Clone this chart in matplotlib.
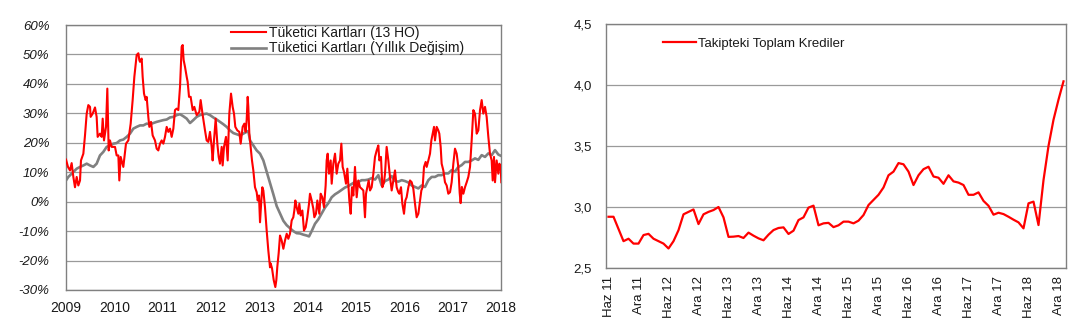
import matplotlib
matplotlib.use("Agg")
import matplotlib.pyplot as plt
import numpy as np

plt.rcParams['font.family'] = ['Liberation Sans', 'DejaVu Sans']

# ---- Left panel: consumer card growth (weekly, % ) ----
# time in years elapsed since the start of 2009
red_t = [0.000, 0.041, 0.083, 0.117, 0.152, 0.186, 0.221, 0.255, 0.290, 0.310, 0.359, 0.393, 0.428, 0.462, 0.497, 0.510,
         0.552, 0.600, 0.634, 0.655, 0.703, 0.738, 0.759, 0.786, 0.828, 0.855, 0.883, 0.910, 0.945, 1.014, 1.048, 1.083,
         1.103, 1.131, 1.186, 1.241, 1.290, 1.338, 1.379, 1.414, 1.462, 1.497, 1.517, 1.531, 1.566, 1.586, 1.614, 1.648,
         1.669, 1.703, 1.724, 1.759, 1.793, 1.841, 1.876, 1.910, 1.945, 1.979, 2.014, 2.048, 2.083, 2.117, 2.152, 2.186,
         2.221, 2.255, 2.290, 2.324, 2.359, 2.393, 2.414, 2.434, 2.462, 2.497, 2.517, 2.545, 2.579, 2.621, 2.655, 2.703,
         2.759, 2.786, 2.828, 2.876, 2.910, 2.945, 2.979, 3.014, 3.034, 3.062, 3.097, 3.131, 3.159, 3.186, 3.221, 3.241,
         3.269, 3.310, 3.345, 3.379, 3.414, 3.448, 3.476, 3.503, 3.545, 3.586, 3.614, 3.655, 3.690, 3.717, 3.738, 3.759,
         3.772, 3.793, 3.821, 3.848, 3.876, 3.910, 3.945, 3.966, 3.993, 4.014, 4.041, 4.062, 4.083, 4.117, 4.152, 4.186,
         4.221, 4.234, 4.262, 4.297, 4.331, 4.352, 4.372, 4.400, 4.428, 4.462, 4.497, 4.531, 4.566, 4.600, 4.634, 4.669,
         4.703, 4.724, 4.745, 4.772, 4.807, 4.828, 4.855, 4.890, 4.924, 4.959, 4.993, 5.028, 5.048, 5.083, 5.117, 5.138,
         5.172, 5.200, 5.241, 5.269, 5.303, 5.338, 5.372, 5.393, 5.414, 5.441, 5.476, 5.497, 5.531, 5.566, 5.600, 5.634,
         5.669, 5.697, 5.724, 5.752, 5.793, 5.821, 5.862, 5.890, 5.917, 5.945, 5.979, 6.014, 6.048, 6.083, 6.117, 6.152,
         6.186, 6.207, 6.234, 6.262, 6.290, 6.324, 6.359, 6.393, 6.428, 6.462, 6.483, 6.517, 6.545, 6.579, 6.600, 6.634,
         6.669, 6.703, 6.738, 6.772, 6.807, 6.841, 6.876, 6.897, 6.931, 6.959, 6.993, 7.021, 7.048, 7.083, 7.117, 7.152,
         7.186, 7.221, 7.255, 7.290, 7.324, 7.352, 7.379, 7.407, 7.441, 7.462, 7.497, 7.531, 7.559, 7.586, 7.614, 7.634,
         7.669, 7.703, 7.724, 7.752, 7.772, 7.807, 7.841, 7.876, 7.910, 7.945, 7.979, 8.014, 8.048, 8.083, 8.117, 8.145,
         8.165, 8.190, 8.221, 8.255, 8.290, 8.324, 8.359, 8.393, 8.428, 8.462, 8.497, 8.531, 8.566, 8.600, 8.634, 8.669,
         8.703, 8.738, 8.772, 8.807, 8.828, 8.855, 8.876, 8.910, 8.945, 8.966, 8.993, 9.007]
red_v = [14.3, 11.8, 10.6, 13.1, 8.4, 4.9, 8.4, 5.5, 7.2, 14.0, 16.3, 22.5, 29.9, 32.8, 32.2, 28.8,
         29.9, 32.0, 28.8, 22.0, 23.1, 22.0, 28.2, 20.8, 25.4, 38.4, 17.4, 20.8, 18.6, 18.6, 15.7, 15.7,
         7.2, 15.2, 11.8, 19.7, 20.8, 26.5, 34.5, 42.4, 49.8, 50.4, 48.1, 47.5, 48.6, 42.4, 36.7, 34.5,
         35.6, 28.8, 25.4, 27.1, 22.5, 20.8, 18.0, 17.4, 19.7, 20.8, 19.7, 22.0, 25.4, 23.7, 24.8, 22.0,
         24.8, 31.1, 31.6, 31.1, 39.0, 52.6, 53.2, 48.1, 45.8, 42.4, 40.7, 35.6, 35.6, 31.1, 32.2, 29.4,
         30.5, 34.5, 29.4, 24.2, 20.8, 20.3, 23.7, 18.6, 14.0, 20.8, 28.2, 19.7, 15.2, 12.9, 18.6, 12.3,
         18.6, 22.0, 14.0, 29.9, 36.7, 32.2, 29.9, 25.4, 24.2, 23.7, 19.7, 25.4, 26.5, 23.7, 27.7, 35.6,
         32.2, 23.1, 18.6, 14.0, 10.6, 4.9, 3.2, 0.4, 2.1, -7.0, 0.4, 4.9, 3.8, -1.9, -9.8, -16.6,
         -22.3, -21.0, -22.6, -26.6, -29.0, -26.6, -22.1, -17.5, -11.5, -13.2, -16.0, -13.2, -10.9, -12.6, -10.9, -6.4,
         -5.3, -3.0, 0.4, -1.9, -4.1, -0.7, -4.7, -3.0, -9.8, -8.7, -5.3, -0.7, 2.7, 0.4, -2.4, -5.3,
         -4.1, 0.4, -4.1, 2.7, 1.5, -1.9, 5.5, 14.0, 16.3, 9.5, 14.0, 6.1, 12.9, 16.3, 9.5, 12.9,
         14.0, 19.7, 11.8, 10.1, 6.1, 11.2, 0.4, -4.1, 4.9, 2.1, 11.8, 1.5, 7.2, 4.9, 4.4, 3.8,
         -5.3, 2.7, 4.9, 7.2, 3.8, 4.9, 9.5, 15.2, 17.4, 19.1, 14.0, 15.2, 4.9, 6.6, 9.5, 18.6,
         14.0, 8.4, 3.8, 7.2, 10.6, 4.9, 3.2, 2.7, 4.9, -0.7, -4.1, 0.4, 1.5, 4.9, 7.2, 6.6,
         4.4, -0.7, -5.3, -4.1, 0.4, 3.8, 4.9, 11.8, 13.5, 11.8, 14.0, 16.3, 20.8, 23.1, 25.4, 20.8,
         25.4, 24.2, 23.1, 18.6, 12.9, 10.6, 6.6, 5.5, 2.7, 3.2, 6.6, 12.9, 18.0, 16.3, 11.8, 3.0,
         -0.5, 5.0, 2.7, 4.9, 6.6, 8.4, 11.8, 20.8, 31.1, 29.9, 23.1, 24.2, 31.1, 34.5, 29.9, 32.2,
         28.8, 22.0, 16.3, 14.0, 7.2, 15.2, 6.6, 14.0, 9.5, 12.9, 11.8, 6.6]

gray_t = [0.000, 0.048, 0.117, 0.221, 0.290, 0.359, 0.428, 0.497, 0.566, 0.634, 0.703, 0.772, 0.841, 0.910, 0.979, 1.048,
          1.117, 1.186, 1.255, 1.324, 1.393, 1.462, 1.531, 1.600, 1.669, 1.738, 1.807, 1.876, 1.945, 2.014, 2.083, 2.152,
          2.221, 2.290, 2.359, 2.428, 2.497, 2.566, 2.634, 2.703, 2.772, 2.841, 2.910, 2.979, 3.048, 3.117, 3.186, 3.255,
          3.324, 3.393, 3.462, 3.531, 3.600, 3.669, 3.738, 3.772, 3.807, 3.876, 3.945, 4.014, 4.083, 4.152, 4.221, 4.290,
          4.359, 4.428, 4.497, 4.566, 4.634, 4.703, 4.772, 4.841, 4.910, 4.979, 5.028, 5.083, 5.152, 5.221, 5.290, 5.359,
          5.428, 5.497, 5.566, 5.634, 5.703, 5.772, 5.841, 5.910, 5.979, 6.048, 6.117, 6.186, 6.255, 6.324, 6.393, 6.462,
          6.531, 6.600, 6.669, 6.738, 6.807, 6.876, 6.945, 7.014, 7.083, 7.152, 7.221, 7.290, 7.359, 7.428, 7.497, 7.566,
          7.634, 7.703, 7.772, 7.841, 7.910, 7.979, 8.048, 8.117, 8.186, 8.255, 8.324, 8.393, 8.462, 8.531, 8.600, 8.669,
          8.738, 8.807, 8.876, 8.945, 9.007]
gray_v = [7.2, 8.4, 9.5, 11.2, 11.8, 12.3, 12.9, 12.3, 11.8, 12.9, 15.7, 16.9, 18.6, 19.1, 19.7, 19.9,
          20.8, 21.1, 22.0, 23.1, 24.8, 25.4, 25.9, 25.9, 26.5, 26.3, 26.7, 27.1, 27.4, 27.7, 27.9, 28.6,
          28.8, 29.4, 29.7, 29.0, 28.2, 26.7, 27.7, 28.8, 29.4, 29.7, 29.9, 29.4, 28.6, 27.9, 27.1, 26.3,
          25.4, 24.2, 23.3, 22.9, 22.5, 23.1, 23.7, 24.0, 20.8, 19.1, 17.4, 16.3, 14.0, 10.2, 6.5, 2.5,
          -1.5, -4.0, -6.5, -8.0, -9.0, -10.0, -10.7, -10.8, -11.2, -11.5, -11.8, -10.0, -7.5, -6.0, -4.0, -2.0,
          -0.5, 1.5, 2.5, 3.2, 4.0, 4.8, 5.3, 6.0, 6.7, 6.7, 7.3, 7.3, 7.5, 8.0, 7.5, 9.0,
          5.5, 7.0, 7.5, 8.7, 7.0, 6.8, 7.3, 7.0, 6.5, 5.5, 5.0, 4.5, 5.5, 5.0, 7.3, 8.4,
          8.4, 9.0, 9.0, 9.6, 9.6, 10.7, 10.2, 11.8, 12.4, 13.5, 13.5, 14.0, 14.7, 14.2, 15.8, 15.2,
          16.4, 15.8, 17.5, 16.0, 15.5]

start_year = 2009
year_labels = ['2009', '2010', '2011', '2012', '2013', '2014', '2015', '2016', '2017', '2018']
pct_ticks = [60, 50, 40, 30, 20, 10, 0, -10, -20, -30]
left_labels = ['Tüketici Kartları (13 HO)', 'Tüketici Kartları (Yıllık Değişim)']

# ---- Right panel: non-performing loans ratio (monthly, Jun 2011 - Jan 2019) ----
npl = [2.92, 2.92, 2.82, 2.72, 2.74, 2.70, 2.70, 2.77, 2.78, 2.74, 2.72, 2.70, 2.66, 2.72, 2.81, 2.94,
       2.96, 2.98, 2.86, 2.94, 2.96, 2.975, 3.00, 2.915, 2.755, 2.757, 2.762, 2.746, 2.79, 2.765, 2.743, 2.727,
       2.773, 2.811, 2.828, 2.833, 2.779, 2.806, 2.893, 2.915, 2.995, 3.011, 2.85, 2.866, 2.87, 2.835,
       2.85, 2.88, 2.88, 2.866, 2.888, 2.934, 3.016, 3.058, 3.10, 3.16, 3.26, 3.29, 3.36, 3.35, 3.29, 3.18,
       3.26, 3.31, 3.33, 3.25, 3.24, 3.19, 3.26, 3.21, 3.20, 3.18, 3.10, 3.10, 3.12, 3.05, 3.01, 2.937,
       2.953, 2.942, 2.92, 2.896, 2.874, 2.825, 3.03, 3.044, 2.852, 3.22, 3.50, 3.715, 3.88, 4.03]
month_labels = ['Haz 11', 'Ara 11', 'Haz 12', 'Ara 12', 'Haz 13', 'Ara 13', 'Haz 14', 'Ara 14',
                'Haz 15', 'Ara 15', 'Haz 16', 'Ara 16', 'Haz 17', 'Ara 17', 'Haz 18', 'Ara 18']
ratio_ticks = [2.5, 3.0, 3.5, 4.0, 4.5]
right_label = 'Takipteki Toplam Krediler'

RED = '#ff0000'
GRAY = '#808080'
GRID = '#9a9a9a'
TXT = '#1a1a1a'
FS = 9.5

fig = plt.figure(figsize=(10.75, 3.3), dpi=100)
fig.patch.set_facecolor('white')

# Left panel
ax1 = fig.add_axes([66 / 1075, 1 - 290 / 330, 435 / 1075, 265 / 330])
x_red = [start_year + t for t in red_t]
x_gray = [start_year + t for t in gray_t]
ax1.plot(x_red, red_v, color=RED, lw=1.5, label=left_labels[0], zorder=3)
ax1.plot(x_gray, gray_v, color=GRAY, lw=1.9, label=left_labels[1], zorder=2)
ax1.set_xlim(start_year, start_year + len(year_labels) - 1)
ax1.set_ylim(-30, 60)
ax1.set_yticks(pct_ticks)
ax1.set_yticklabels([f'{p}%' for p in pct_ticks], fontstyle='italic')
ax1.set_xticks([start_year + i for i in range(len(year_labels))])
ax1.set_xticklabels(year_labels)
ax1.grid(axis='y', color=GRID, lw=0.9)
ax1.set_axisbelow(True)
ax1.tick_params(axis='y', length=0, pad=12, labelsize=FS, labelcolor=TXT)
ax1.tick_params(axis='x', length=0, pad=8, labelsize=FS + 0.5, labelcolor=TXT)
for s in ax1.spines.values():
    s.set_color(GRAY)
    s.set_linewidth(1.0)
ax1.legend(loc='upper left', bbox_to_anchor=(0.378, 1.0), frameon=False, fontsize=FS + 0.5,
           handlelength=2.5, handletextpad=0.2, borderaxespad=0, borderpad=0.05, labelspacing=0.12,
           labelcolor=TXT)

# Right panel
ax2 = fig.add_axes([606 / 1075, 1 - 268 / 330, 460 / 1075, 244 / 330])
xm = np.arange(len(npl))
ax2.plot(xm, npl, color=RED, lw=1.6, label=right_label, zorder=3)
ax2.set_xlim(-0.5, len(npl) - 0.5)
ax2.set_ylim(ratio_ticks[0], ratio_ticks[-1])
ax2.set_yticks(ratio_ticks)
ax2.set_yticklabels([f'{v:.1f}'.replace('.', ',') for v in ratio_ticks])
ax2.set_xticks(np.arange(0, 6 * len(month_labels), 6))
ax2.set_xticklabels(month_labels, rotation=90)
ax2.grid(axis='y', color=GRID, lw=0.9)
ax2.set_axisbelow(True)
ax2.tick_params(axis='y', length=0, pad=10, labelsize=FS, labelcolor=TXT)
ax2.tick_params(axis='x', length=0, pad=6, labelsize=FS, labelcolor=TXT)
for s in ax2.spines.values():
    s.set_color(GRAY)
    s.set_linewidth(1.0)
ax2.legend(loc='upper left', bbox_to_anchor=(0.12, 0.95), frameon=False, fontsize=FS,
           handlelength=2.5, handletextpad=0.2, borderaxespad=0, borderpad=0.1, labelcolor=TXT)

fig.savefig('out.png', dpi=100, facecolor='white')
